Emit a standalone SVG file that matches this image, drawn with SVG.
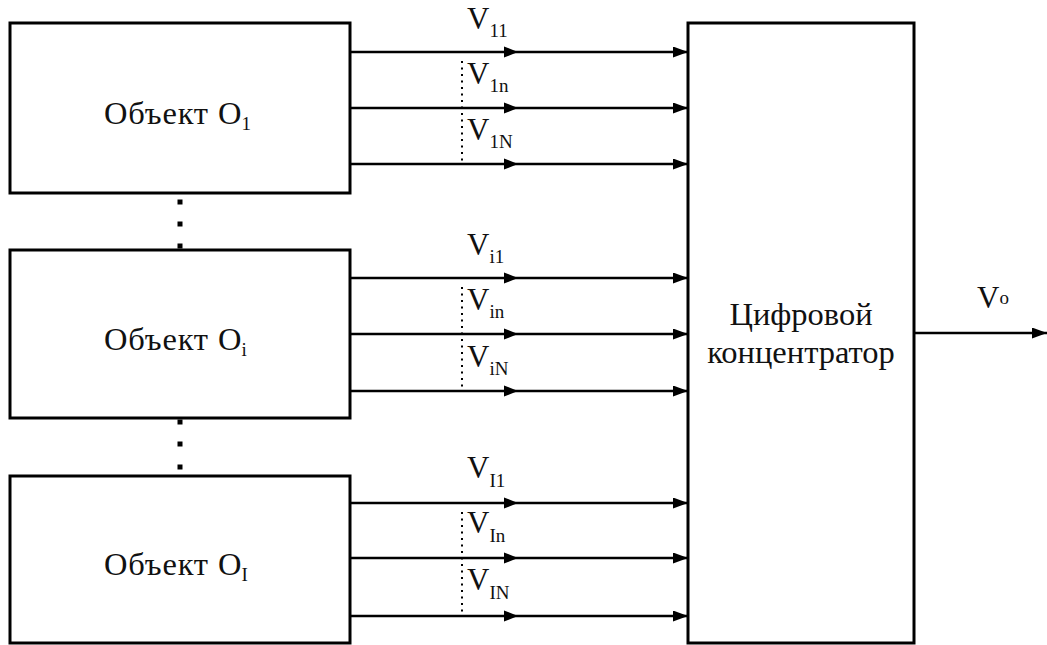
<svg xmlns="http://www.w3.org/2000/svg" width="1047" height="645" viewBox="0 0 1047 645">
  <style>
    .box { fill: #ffffff; stroke: #000000; stroke-width: 3; }
    .wire { fill: none; stroke: #000000; stroke-width: 2.6; }
    .dots { fill: none; stroke: #000000; stroke-width: 2; stroke-dasharray: 2 4.5; }
    text { font-family: 'Liberation Serif', 'Times New Roman', serif; fill: #111111; }
    .node { font-size: 32.5px; }
    .word { letter-spacing: 0.8px; }
    .v { font-size: 31px; }
    .sub { font-size: 19px; }
  </style>
  <defs>
    <marker id="head" viewBox="0 0 15 11" refX="15" refY="5.5" markerWidth="15" markerHeight="11" markerUnits="userSpaceOnUse" orient="auto">
      <path d="M0,0 L15,5.5 L0,11 Z" fill="#000000"/>
    </marker>
    <path id="midhead" d="M-14,-5.5 L0,0 L-14,5.5 Z" fill="#000000"/>
  </defs>
  <rect width="1047" height="645" fill="#ffffff"/>

  <!-- source objects -->
  <g id="object-1">
    <rect class="box" x="10" y="23" width="340" height="170"/>
    <text class="node word" x="104" y="124">Объект</text>
    <text class="node" x="218" y="124">O<tspan class="sub" dy="6">1</tspan></text>
  </g>
  <g id="object-i">
    <rect class="box" x="10" y="250" width="340" height="168"/>
    <text class="node word" x="104" y="350">Объект</text>
    <text class="node" x="218" y="350">O<tspan class="sub" dy="6">i</tspan></text>
  </g>
  <g id="object-I">
    <rect class="box" x="10" y="476" width="340" height="167"/>
    <text class="node word" x="104" y="575">Объект</text>
    <text class="node" x="218" y="575">O<tspan class="sub" dy="6">I</tspan></text>
  </g>

  <!-- digital hub -->
  <g id="hub">
    <rect class="box" x="688" y="23" width="226" height="620"/>
    <text class="node" x="801" y="325" text-anchor="middle">Цифровой</text>
    <text class="node" x="801" y="363" text-anchor="middle">концентратор</text>
  </g>

  <!-- vertical ellipsis between objects -->
  <g id="ellipsis" fill="#000000">
    <rect x="177.5" y="199.5" width="5" height="5"/>
    <rect x="177.5" y="221.5" width="5" height="5"/>
    <rect x="177.5" y="243.5" width="5" height="5"/>
    <rect x="177.5" y="419.5" width="5" height="5"/>
    <rect x="177.5" y="441.5" width="5" height="5"/>
    <rect x="177.5" y="464.5" width="5" height="5"/>
  </g>

  <!-- signal lines -->
  <g id="connectors">
    <line class="wire" x1="351" y1="52" x2="688" y2="52" marker-end="url(#head)"/>
    <line class="wire" x1="351" y1="108" x2="688" y2="108" marker-end="url(#head)"/>
    <line class="wire" x1="351" y1="164" x2="688" y2="164" marker-end="url(#head)"/>
    <line class="wire" x1="351" y1="278" x2="688" y2="278" marker-end="url(#head)"/>
    <line class="wire" x1="351" y1="334" x2="688" y2="334" marker-end="url(#head)"/>
    <line class="wire" x1="351" y1="391" x2="688" y2="391" marker-end="url(#head)"/>
    <line class="wire" x1="351" y1="503" x2="688" y2="503" marker-end="url(#head)"/>
    <line class="wire" x1="351" y1="558" x2="688" y2="558" marker-end="url(#head)"/>
    <line class="wire" x1="351" y1="616" x2="688" y2="616" marker-end="url(#head)"/>
    <line class="wire" x1="915" y1="333" x2="1047" y2="333" marker-end="url(#head)"/>

    <!-- direction marks halfway along each line -->
    <use href="#midhead" x="518" y="52"/>
    <use href="#midhead" x="518" y="108"/>
    <use href="#midhead" x="518" y="164"/>
    <use href="#midhead" x="518" y="278"/>
    <use href="#midhead" x="518" y="334"/>
    <use href="#midhead" x="518" y="391"/>
    <use href="#midhead" x="518" y="503"/>
    <use href="#midhead" x="518" y="558"/>
    <use href="#midhead" x="518" y="616"/>

    <!-- dotted brackets for intermediate channels -->
    <line class="dots" x1="462" y1="61" x2="462" y2="164"/>
    <line class="dots" x1="462" y1="287" x2="462" y2="391"/>
    <line class="dots" x1="462" y1="512" x2="462" y2="616"/>
  </g>

  <!-- channel labels -->
  <g id="labels">
    <text class="v" x="467" y="29">V<tspan class="sub" dy="8">11</tspan></text>
    <text class="v" x="467" y="84">V<tspan class="sub" dy="8">1n</tspan></text>
    <text class="v" x="467" y="140">V<tspan class="sub" dy="8">1N</tspan></text>
    <text class="v" x="467" y="255">V<tspan class="sub" dy="8">i1</tspan></text>
    <text class="v" x="467" y="310">V<tspan class="sub" dy="8">in</tspan></text>
    <text class="v" x="467" y="367">V<tspan class="sub" dy="8">iN</tspan></text>
    <text class="v" x="467" y="478">V<tspan class="sub" dy="9">I1</tspan></text>
    <text class="v" x="467" y="533">V<tspan class="sub" dy="9">In</tspan></text>
    <text class="v" x="467" y="590">V<tspan class="sub" dy="9">IN</tspan></text>
    <text class="v" x="977" y="308">V<tspan class="sub" dy="-4">o</tspan></text>
  </g>
</svg>
